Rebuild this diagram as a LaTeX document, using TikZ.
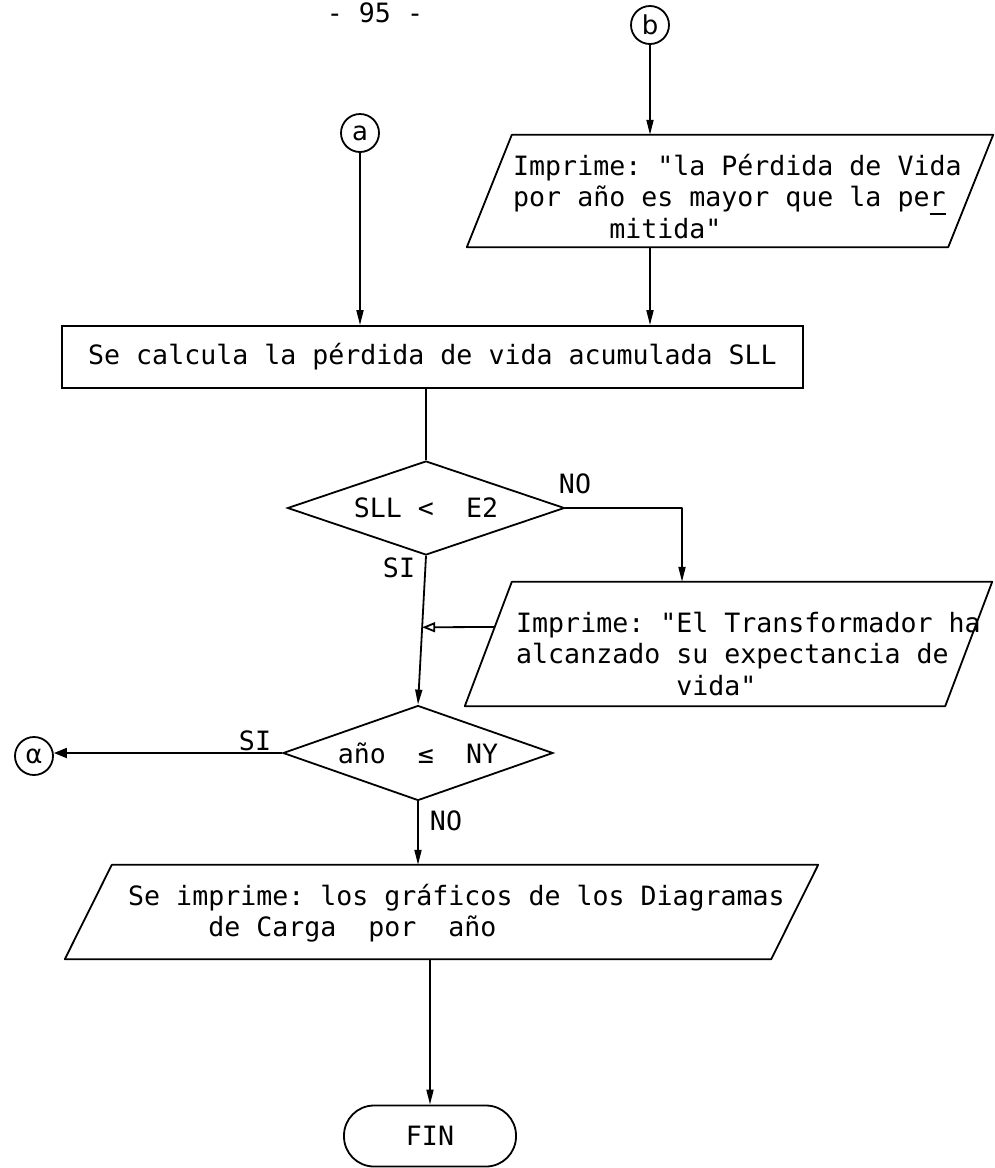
\documentclass[tikz,border=0pt]{standalone}
\usepackage{fontspec}
\usetikzlibrary{arrows.meta,calc,shapes.geometric}
% typewriter face of the flowchart
\newfontfamily\tw[WordSpace={1,0,0}]{DejaVu Sans Mono}
\newfontfamily\hand{DejaVu Sans}
\newcommand\twfont{\tw\fontsize{26.6pt}{31.5pt}\selectfont\frenchspacing}
% left-aligned block of typed lines, baseline = first line
\newcommand\tlines[1]{\vtop{\twfont\baselineskip=31.5pt\lineskiplimit=-100pt\halign{##\hfil\cr#1\crcr}}}
% indent by n character cells
\newcommand\ind[1]{\hspace*{#1\fontcharwd\font`M}}
% typed hyphenation stroke under a letter
\newcommand\undermark[1]{\makebox[0pt][l]{\rule[-8pt]{\fontcharwd\font`M}{1.5pt}}#1}
% parallelogram around a frame node, #2 = half of the horizontal slant
\newcommand\ioshape[2]{\draw[line] ([xshift=#2]#1.north west) -- ([xshift=#2]#1.north east)
  -- ([xshift=-#2]#1.south east) -- ([xshift=-#2]#1.south west) -- cycle;}

\tikzset{
  line/.style={line width=1.8pt, line join=round},
  arr/.style={line, -{Triangle[length=15pt,width=7pt]}},
  arrj/.style={line, -{Triangle[open,length=13pt,width=10pt]}},
  arra/.style={line, -{Triangle[length=13pt,width=10pt]}},
  txt/.style={inner sep=0pt, font=\twfont},
  conn/.style={circle, draw, line width=1.8pt, minimum size=38pt, inner sep=0pt,
    font=\hand\fontsize{26pt}{26pt}\selectfont},
  proc/.style={draw, line width=1.8pt, rectangle, inner sep=0pt, font=\twfont},
  dec/.style={draw, diamond, aspect=2.9, inner sep=2pt, line width=1.8pt, font=\twfont},
  term/.style={draw, line width=1.8pt, rectangle, rounded corners=30pt, inner sep=0pt, font=\twfont},
  frame/.style={rectangle, inner sep=0pt}
}

\begin{document}
\begin{tikzpicture}[x=1pt,y=-1pt]
\useasboundingbox (0,0) rectangle (994,1168);

% page number
\node[txt, anchor=base] (pg) at (375,22) {- 95 -};

% connectors
\node[conn] (b) at (650,25) {b};
\node[conn] (a) at (360,133) {a};
\node[conn] (al) at (34,756) {α};

% first output
\node[frame, minimum width=481pt, minimum height=112pt] (p1) at (730,191) {};
\ioshape{p1}{22.5pt}
\node[txt, anchor=base west] (p1t) at (513,175)
  {\tlines{Imprime: "la Pérdida de Vida\cr
           por año es mayor que la pe\undermark{r}\cr
           \ind{6}mitida"}};

% process
\node[proc, minimum width=741pt, minimum height=62pt] (r) at (432.5,357)
  {Se calcula la pérdida de vida acumulada SLL};

% first decision
\node[dec, minimum width=277pt, minimum height=94pt] (d1) at (426,508) {SLL < \ E2};
\node[txt, anchor=base] (no1) at (575,493) {NO};
\node[txt, anchor=base] (si1) at (399,577) {SI};

% second output
\node[frame, minimum width=480pt, minimum height=124pt] (p2) at (728.5,644) {};
\ioshape{p2}{23.5pt}
\node[txt, anchor=base west] (p2t) at (516,632)
  {\tlines{Imprime: "El Transformador ha\cr
           alcanzado su expectancia de\cr
           \ind{10}vida"}};

% second decision
\node[dec, minimum width=270pt, minimum height=95pt] (d2) at (418,753) {año \ ≤ \ NY};
\node[txt, anchor=base] (si2) at (255,750) {SI};
\node[txt, anchor=base] (no2) at (446,830) {NO};

% final output
\node[frame, minimum width=706pt, minimum height=94pt] (p3) at (441.5,912) {};
\ioshape{p3}{23.5pt}
\node[txt, anchor=base west] (p3t) at (128,905)
  {\tlines{Se imprime: los gráficos de los Diagramas\cr
           \ind{5}de Carga\ \ por\ \ año}};

% end
\node[term, minimum width=172pt, minimum height=61pt] (fin) at (430,1136) {FIN};

% flow lines
\draw[arr] (b) -- (b |- p1.north);
\draw[arr] (a) -- (a |- r.north);
\draw[arr] (b |- p1.south) -- (b |- r.north);
\draw[line] (d1.north |- r.south) -- (d1.north);
\draw[arr] (d1.south) -- (d2.north);
\coordinate (j) at ($(d1.south)!0.48!(d2.north)$);
\coordinate (p2w) at ($([xshift=-23.5pt]p2.south west)!0.637!([xshift=23.5pt]p2.north west)$);
\draw[arrj] (p2w) -- (j);
\draw[arr] (d1.east) -| ([xshift=-46.5pt]p2.north);
\draw[arra] (d2.west) -- (d2.west -| al.east);
\draw[arr] (d2.south) -- (d2.south |- p3.north);
\draw[arr] (fin.north |- p3.south) -- (fin.north);
\end{tikzpicture}
\end{document}
